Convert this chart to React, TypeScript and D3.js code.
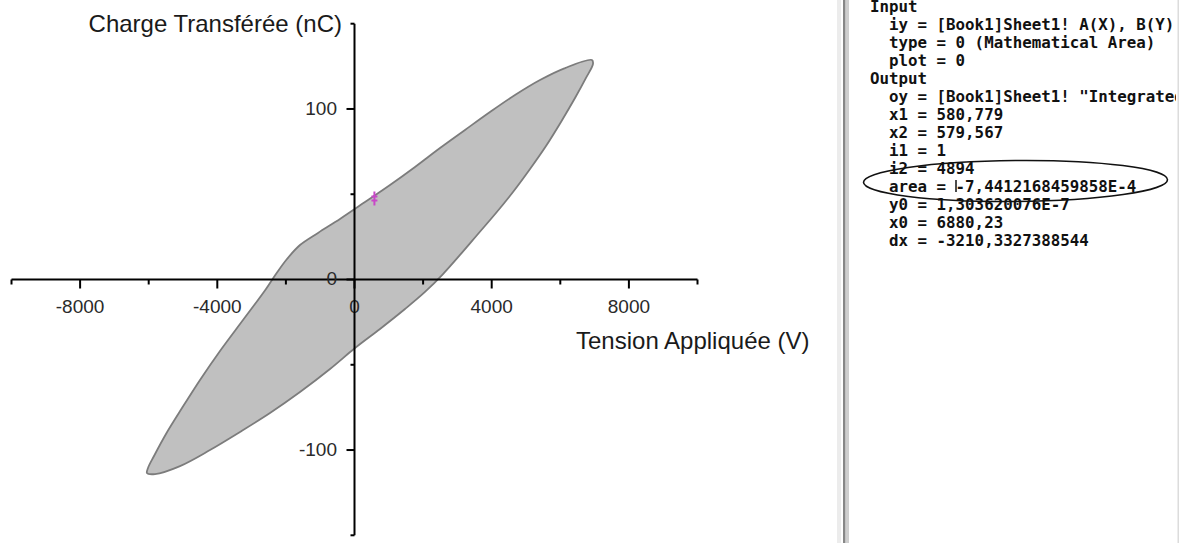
import React from "react";
import * as d3 from "d3";

// hysteresis loop (V, nC)
const upperVoltage = [6922, 6137, 5408, 4679, 3950, 3222, 2493, 1764, 1035, 306, -423, -1064, -1589, -1968, -2289, -2580, -2901, -3338, -3921, -4504, -5029, -5496, -5845, -6020, -6050];
const upperCharge = [128.7, 124.0, 117.0, 108.2, 98.2, 87.7, 77.1, 66.0, 55.4, 45.4, 35.5, 27.3, 20.2, 12.0, 3.2, -5.6, -14.4, -26.1, -41.9, -58.9, -75.4, -90.6, -103.5, -110.5, -113.5];
const lowerVoltage = [-5816, -5087, -4213, -3338, -2464, -1589, -714, 15, 743, 1472, 2055, 2580, 3076, 3600, 4125, 4621, 5117, 5583, 6020, 6429, 6749, 6953];
const lowerCharge = [-114.1, -109.4, -100.0, -89.4, -78.3, -66.0, -52.5, -40.2, -29.0, -17.3, -7.3, 3.2, 14.4, 26.7, 39.0, 51.3, 64.8, 78.3, 92.4, 106.4, 118.2, 126.4];

const cursorPoint = { v: 580.779, q: 47.5 };

const xMajorTicks = [-8000, -4000, 0, 4000, 8000];
const xMinorTicks = [-10000, -6000, -2000, 2000, 6000, 10000];
const yMajorTicks = [-100, 0, 100];
const yMinorTicks = [-150, -50, 50, 150];

const xTitle = "Tension Appliquée (V)";
const yTitle = "Charge Transférée (nC)";

const panelLines = [
  "Input",
  "  iy = [Book1]Sheet1! A(X), B(Y)",
  "  type = 0 (Mathematical Area)",
  "  plot = 0",
  "Output",
  '  oy = [Book1]Sheet1! "Integrated',
  "  x1 = 580,779",
  "  x2 = 579,567",
  "  i1 = 1",
  "  i2 = 4894",
  "  area = -7,4412168459858E-4",
  "  y0 = 1,303620076E-7",
  "  x0 = 6880,23",
  "  dx = -3210,3327388544",
];

const W = 1183;
const H = 543;
const font = "'Liberation Sans', Arial, sans-serif";
const mono = "'DejaVu Sans Mono', monospace";
const charW = 9.5;

export default function App() {
  const x = d3.scaleLinear().domain([-10000, 10000]).range([11.5, 697.5]);
  const y = d3.scaleLinear().domain([-150, 150]).range([535.3, 23.7]);

  const loop = [
    ...upperVoltage.map((v, i) => [v, upperCharge[i]] as [number, number]),
    ...lowerVoltage.map((v, i) => [v, lowerCharge[i]] as [number, number]),
  ];
  const line = d3
    .line<[number, number]>()
    .x((d) => x(d[0]))
    .y((d) => y(d[1]))
    .curve(d3.curveCatmullRomClosed.alpha(0.5));

  const x0 = x(0);
  const y0 = y(0);
  const mx = x(cursorPoint.v);
  const my = y(cursorPoint.q);

  // panel text layout
  const textLeft = 870;
  const firstBase = 12;
  const areaRow = 10;
  const cursorX = textLeft + 9 * charW + 0.5;

  return (
    <svg
      width={W}
      height={H}
      style={{ position: "absolute", left: 0, top: 0, background: "#fff" }}
    >
      <defs>
        <clipPath id="panelClip">
          <rect x={850} y={0} width={326} height={H} />
        </clipPath>
      </defs>

      {/* loop */}
      <path d={line(loop) ?? ""} fill="#c0c0c0" stroke="#7c7c7c" strokeWidth={1.8} />

      {/* x axis */}
      <line x1={x(-10000)} x2={x(10000)} y1={y0} y2={y0} stroke="#000" strokeWidth={2} />
      {xMajorTicks.map((t) => (
        <line key={"xM" + t} x1={x(t)} x2={x(t)} y1={y0} y2={y0 + 9} stroke="#000" strokeWidth={2} />
      ))}
      {xMinorTicks.map((t) => (
        <line key={"xm" + t} x1={x(t)} x2={x(t)} y1={y0} y2={y0 + 5} stroke="#000" strokeWidth={2} />
      ))}
      {xMajorTicks.map((t) => (
        <text
          key={"xl" + t}
          x={x(t)}
          y={313}
          textAnchor="middle"
          fontFamily={font}
          fontSize={19}
          fill="#2a2a2a"
        >
          {t}
        </text>
      ))}

      {/* y axis */}
      <line x1={x0} x2={x0} y1={y(150)} y2={y(-150)} stroke="#000" strokeWidth={2} />
      {yMajorTicks.map((t) => (
        <line key={"yM" + t} x1={x0 - 8} x2={x0} y1={y(t)} y2={y(t)} stroke="#000" strokeWidth={2} />
      ))}
      {yMinorTicks.map((t) => (
        <line key={"ym" + t} x1={x0 - 4} x2={x0} y1={y(t)} y2={y(t)} stroke="#000" strokeWidth={2} />
      ))}
      {yMajorTicks.map((t) => (
        <text
          key={"yl" + t}
          x={337}
          y={y(t) - 1}
          dy="0.36em"
          textAnchor="end"
          fontFamily={font}
          fontSize={19}
          fill="#2a2a2a"
        >
          {t}
        </text>
      ))}

      {/* cursor marker */}
      <g stroke="#c848c8" strokeWidth={2}>
        <line x1={mx} x2={mx} y1={my - 7} y2={my + 7} />
        <line x1={mx - 3} x2={mx + 3} y1={my - 2} y2={my - 2} />
        <line x1={mx - 3} x2={mx + 3} y1={my + 2} y2={my + 2} />
      </g>

      {/* titles */}
      <text x={342} y={32} textAnchor="end" fontFamily={font} fontSize={24} fill="#1a1a1a">
        {yTitle}
      </text>
      <text x={576} y={349} fontFamily={font} fontSize={24} fill="#1a1a1a">
        {xTitle}
      </text>

      {/* results panel */}
      <rect x={837} y={0} width={4} height={H} fill="#ececec" />
      <rect x={843} y={0} width={2.5} height={H} fill="#888" />
      <rect x={846} y={0} width={3} height={H} fill="#cfcfcf" />
      <rect x={1177.5} y={0} width={1.5} height={H} fill="#dcdcdc" />
      <g clipPath="url(#panelClip)">
        {panelLines.map((s, i) => (
          <text
            key={i}
            x={textLeft}
            y={firstBase + i * 18}
            fontFamily={mono}
            fontWeight="bold"
            fontSize={15.8}
            fill="#111"
            style={{ whiteSpace: "pre" }}
          >
            {s}
          </text>
        ))}
      </g>
      <line
        x1={cursorX}
        x2={cursorX}
        y1={firstBase + areaRow * 18 - 12}
        y2={firstBase + areaRow * 18}
        stroke="#111"
        strokeWidth={1.5}
      />
      <ellipse
        cx={1015.5}
        cy={181}
        rx={152}
        ry={20.5}
        fill="none"
        stroke="#111"
        strokeWidth={1.6}
        transform="rotate(-0.5 1015.5 181)"
      />
    </svg>
  );
}
